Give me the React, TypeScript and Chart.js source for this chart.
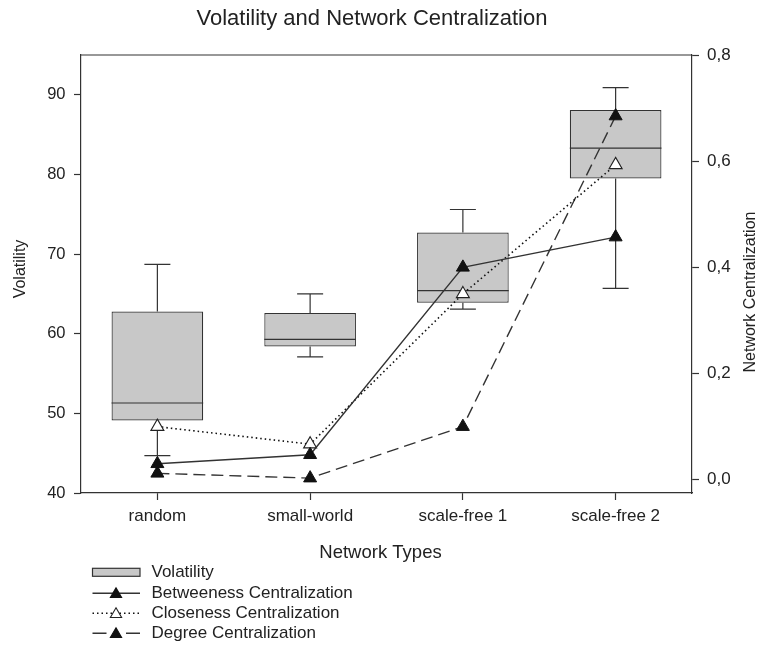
import React, { useEffect, useRef } from 'react';
import { Chart, registerables } from 'chart.js';

Chart.register(...registerables);

const FONT = '"Liberation Sans", Arial, Helvetica, sans-serif';

// ---- data ----
const categories = ['random', 'small-world', 'scale-free 1', 'scale-free 2'];
const volMin = [44.7, 57.1, 63.1, 65.7];
const volQ1 = [49.1, 58.4, 63.9, 79.5];
const volMedian = [51.3, 59.3, 65.4, 83.3];
const volQ3 = [62.8, 62.6, 72.7, 88.1];
const volMax = [68.7, 65.0, 75.6, 90.9];
const betweenness = [0.03, 0.047, 0.4, 0.457];
const closeness = [0.1, 0.067, 0.35, 0.593];
const degree = [0.012, 0.003, 0.1, 0.685];
const volatilityTicks = [40, 50, 60, 70, 80, 90];
const centralTicks = [0, 0.2, 0.4, 0.6, 0.8];
const centralTickLabels = ['0,0', '0,2', '0,4', '0,6', '0,8'];
const legendLabels = ['Volatility', 'Betweeness Centralization', 'Closeness Centralization', 'Degree Centralization'];

const TEXT = '#222';
const AXIS = '#333';
const BOX_FILL = '#c8c8c8';

function tri(ctx: CanvasRenderingContext2D, x: number, y: number, r: number, fill: string, stroke: string) {
  ctx.save();
  ctx.setLineDash([]);
  ctx.beginPath();
  for (let k = 0; k < 3; k++) {
    const a = (k * 2 * Math.PI) / 3;
    const px = x + Math.sin(a) * r;
    const py = y - Math.cos(a) * r;
    if (k === 0) ctx.moveTo(px, py);
    else ctx.lineTo(px, py);
  }
  ctx.closePath();
  ctx.fillStyle = fill;
  ctx.fill();
  ctx.lineWidth = 1.1;
  ctx.strokeStyle = stroke;
  ctx.stroke();
  ctx.restore();
}

const extrasPlugin = {
  id: 'extras',
  afterDatasetDraw(chart: any, args: any) {
    if (args.index !== 3) return;
    const ctx: CanvasRenderingContext2D = chart.ctx;
    const xs = chart.scales.x;
    const ys = chart.scales.y;
    const meta = chart.getDatasetMeta(3);
    ctx.save();
    ctx.strokeStyle = AXIS;
    ctx.lineWidth = 1.2;
    ctx.setLineDash([]);
    categories.forEach((_, i) => {
      const x = xs.getPixelForValue(i);
      const half = meta.data[i].width / 2;
      const capHalf = 13;
      const yMin = ys.getPixelForValue(volMin[i]);
      const yQ1 = ys.getPixelForValue(volQ1[i]);
      const yMed = ys.getPixelForValue(volMedian[i]);
      const yQ3 = ys.getPixelForValue(volQ3[i]);
      const yMax = ys.getPixelForValue(volMax[i]);
      ctx.beginPath();
      ctx.moveTo(x, yQ3);
      ctx.lineTo(x, yMax);
      ctx.moveTo(x - capHalf, yMax);
      ctx.lineTo(x + capHalf, yMax);
      ctx.moveTo(x, yQ1);
      ctx.lineTo(x, yMin);
      ctx.moveTo(x - capHalf, yMin);
      ctx.lineTo(x + capHalf, yMin);
      ctx.moveTo(x - half, yMed);
      ctx.lineTo(x + half, yMed);
      ctx.stroke();
    });
    ctx.restore();
  },
  afterDraw(chart: any) {
    const ctx: CanvasRenderingContext2D = chart.ctx;
    const area = chart.chartArea;
    ctx.save();
    // top frame line
    ctx.strokeStyle = AXIS;
    ctx.lineWidth = 1.2;
    ctx.beginPath();
    ctx.moveTo(area.left, area.top);
    ctx.lineTo(area.right, area.top);
    ctx.stroke();

    ctx.fillStyle = TEXT;
    ctx.textBaseline = 'middle';
    // title
    ctx.textAlign = 'center';
    ctx.font = `22px ${FONT}`;
    ctx.fillText('Volatility and Network Centralization', 372, 18.7);
    // x title
    ctx.font = `18.5px ${FONT}`;
    ctx.fillText('Network Types', 380.5, 553);
    // left y title
    ctx.font = `16px ${FONT}`;
    ctx.save();
    ctx.translate(20.5, 269);
    ctx.rotate(-Math.PI / 2);
    ctx.fillText('Volatility', 0, 0);
    ctx.restore();
    // right y title
    ctx.save();
    ctx.translate(750.5, 292);
    ctx.rotate(-Math.PI / 2);
    ctx.fillText('Network Centralization', 0, 0);
    ctx.restore();

    // legend
    const lx0 = 92.5;
    const lx1 = 140;
    const lmid = 116;
    const rows = [572.3, 593.3, 613.3, 633.3];
    ctx.textAlign = 'left';
    ctx.font = `17px ${FONT}`;
    legendLabels.forEach((t, i) => ctx.fillText(t, 151.5, rows[i]));

    // volatility box symbol
    ctx.fillStyle = BOX_FILL;
    ctx.fillRect(lx0, rows[0] - 4, lx1 - lx0, 8);
    ctx.strokeStyle = AXIS;
    ctx.lineWidth = 1.2;
    ctx.strokeRect(lx0, rows[0] - 4, lx1 - lx0, 8);

    // betweenness
    ctx.beginPath();
    ctx.strokeStyle = AXIS;
    ctx.lineWidth = 1.4;
    ctx.moveTo(lx0, rows[1]);
    ctx.lineTo(lx1, rows[1]);
    ctx.stroke();
    tri(ctx, lmid, rows[1] + 1, 6.5, '#111', '#111');

    // closeness
    ctx.beginPath();
    ctx.strokeStyle = '#111';
    ctx.lineWidth = 1.5;
    ctx.setLineDash([1.5, 3]);
    ctx.moveTo(lx0, rows[2]);
    ctx.lineTo(lx1, rows[2]);
    ctx.stroke();
    ctx.setLineDash([]);
    tri(ctx, lmid, rows[2] + 1, 6.5, '#fff', '#222');

    // degree
    ctx.beginPath();
    ctx.strokeStyle = AXIS;
    ctx.lineWidth = 1.4;
    ctx.moveTo(lx0, rows[3]);
    ctx.lineTo(lx0 + 14, rows[3]);
    ctx.moveTo(lx1 - 14, rows[3]);
    ctx.lineTo(lx1, rows[3]);
    ctx.stroke();
    tri(ctx, lmid, rows[3] + 1, 6.5, '#111', '#111');

    ctx.restore();
  },
};

export default function App() {
  const ref = useRef<HTMLCanvasElement | null>(null);

  useEffect(() => {
    if (!ref.current) return;
    Chart.defaults.font.family = FONT;
    const lineCommon = {
      type: 'line' as const,
      yAxisID: 'y1',
      pointStyle: 'triangle',
      pointRadius: 7.5,
      pointHoverRadius: 7.5,
      fill: false,
      tension: 0,
      order: 0,
    };
    const chart = new Chart(ref.current, {
      data: {
        labels: categories,
        datasets: [
          {
            ...lineCommon,
            label: legendLabels[1],
            data: betweenness,
            borderColor: AXIS,
            borderWidth: 1.4,
            pointBackgroundColor: '#111',
            pointBorderColor: '#111',
            pointBorderWidth: 1,
          },
          {
            ...lineCommon,
            label: legendLabels[2],
            data: closeness,
            borderColor: '#111',
            borderWidth: 1.6,
            borderDash: [1.5, 3],
            pointBackgroundColor: '#fff',
            pointBorderColor: '#222',
            pointBorderWidth: 1.1,
          },
          {
            ...lineCommon,
            label: legendLabels[3],
            data: degree,
            borderColor: AXIS,
            borderWidth: 1.4,
            borderDash: [12, 6],
            pointBackgroundColor: '#111',
            pointBorderColor: '#111',
            pointBorderWidth: 1,
          },
          {
            type: 'bar' as const,
            label: legendLabels[0],
            data: categories.map((_, i) => [volQ1[i], volQ3[i]]),
            yAxisID: 'y',
            backgroundColor: BOX_FILL,
            borderColor: AXIS,
            borderWidth: 1.2,
            borderSkipped: false,
            barPercentage: 0.6,
            categoryPercentage: 1,
            order: 1,
          },
        ] as any,
      },
      options: {
        responsive: false,
        animation: false,
        layout: { padding: { top: 55, bottom: 115, left: 0, right: 0 } },
        plugins: {
          legend: { display: false },
          title: { display: false },
          tooltip: { enabled: false },
        },
        scales: {
          x: {
            type: 'category',
            offset: true,
            grid: { display: true, offset: false, drawOnChartArea: false, drawTicks: true, tickLength: 7, tickColor: AXIS, tickWidth: 1.2 },
            border: { display: true, color: AXIS, width: 1.2 },
            ticks: { color: TEXT, font: { family: FONT, size: 17 }, padding: 6, maxRotation: 0 },
            afterFit: (s: any) => {
              s.height = 40;
            },
          },
          y: {
            type: 'linear',
            position: 'left',
            min: 40,
            max: 95,
            afterBuildTicks: (s: any) => {
              s.ticks = volatilityTicks.map((v) => ({ value: v }));
            },
            grid: { display: true, drawOnChartArea: false, drawTicks: true, tickLength: 7, tickColor: AXIS, tickWidth: 1.2 },
            border: { display: true, color: AXIS, width: 1.2 },
            ticks: { color: TEXT, font: { family: FONT, size: 16.5 }, padding: 8.5 },
            afterFit: (s: any) => {
              s.width = 81;
            },
          },
          y1: {
            type: 'linear',
            position: 'right',
            min: -0.025,
            max: 0.8,
            afterBuildTicks: (s: any) => {
              s.ticks = centralTicks.map((v) => ({ value: v }));
            },
            grid: { display: true, drawOnChartArea: false, drawTicks: true, tickLength: 7, tickColor: AXIS, tickWidth: 1.2 },
            border: { display: true, color: AXIS, width: 1.2 },
            ticks: {
              color: TEXT,
              font: { family: FONT, size: 17 },
              padding: 8,
              callback: (v: any) => {
                const idx = centralTicks.findIndex((t) => Math.abs(t - Number(v)) < 1e-9);
                return idx >= 0 ? centralTickLabels[idx] : '';
              },
            },
            afterFit: (s: any) => {
              s.width = 73;
            },
          },
        } as any,
      },
      plugins: [extrasPlugin],
    } as any);
    return () => chart.destroy();
  }, []);

  return (
    <div style={{ position: 'absolute', left: 0, top: 0, width: 765, height: 648, background: '#fff' }}>
      <canvas ref={ref} width={765} height={648} />
    </div>
  );
}
